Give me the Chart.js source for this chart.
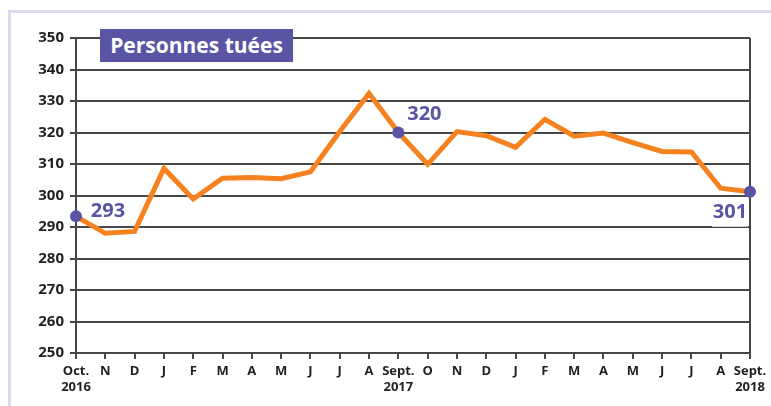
<!DOCTYPE html>
<html>
<head>
<meta charset="utf-8">
<script src="https://cdn.jsdelivr.net/npm/chart.js@4/dist/chart.umd.min.js"></script>
<style>
  html, body { margin: 0; padding: 0; background: #fff; }
  #wrap { position: relative; width: 771px; height: 406px; overflow: hidden; }
  #frame { position: absolute; left: 8px; top: 10px; right: -10px; bottom: -10px;
           border-top: 3px solid #dcd9ef; border-left: 3px solid #dcd9ef; }
  #title { position: absolute; left: 100px; top: 29px; width: 193px; height: 33px;
           background: #5954a4; color: #fff; font: bold 21px "Open Sans", sans-serif;
           line-height: 32px; text-align: center; }
  canvas { position: absolute; left: 0; top: 0; }
</style>
</head>
<body>
<div id="wrap">
  <div id="frame"></div>
  <canvas id="chart" width="771" height="406"></canvas>
  <div id="title">Personnes tuées</div>
</div>
<script>
const months = [
  ["Oct.", "2016"], "N", "D", "J", "F", "M", "A", "M", "J", "J", "A", ["Sept.", "2017"],
  "O", "N", "D", "J", "F", "M", "A", "M", "J", "J", "A", ["Sept.", "2018"]
];
const killed = [
  293.4, 288, 288.6, 308.6, 298.9, 305.5, 305.7, 305.3, 307.5, 320.3, 332.4, 320,
  309.9, 320.3, 319, 315.3, 324.2, 318.8, 319.8, 316.8, 314, 313.8, 302.3, 301.2
];
const markedPoints = [0, 11, 23];
const yTicks = [250, 260, 270, 280, 290, 300, 310, 320, 330, 340, 350];

const PURPLE = "#5954a4";
const ORANGE = "#f5821f";
const GRID = "#474747";

// label placement for the highlighted points (offsets from the dot)
const labelOffsets = { 0: [32, -5], 11: [26, -18], 23: [-20, 21] };

const pointLabels = {
  id: "pointLabels",
  afterDatasetsDraw(chart){
    const ctx = chart.ctx;
    const meta = chart.getDatasetMeta(0);
    ctx.save();
    ctx.font = "bold 20px 'Open Sans', sans-serif";
    ctx.textAlign = "center";
    ctx.textBaseline = "middle";
    for (const i of markedPoints){
      const pt = meta.data[i];
      const [dx, dy] = labelOffsets[i];
      const txt = String(Math.round(killed[i]));
      const x = pt.x + dx, y = pt.y + dy;
      if (i === 23){
        ctx.fillStyle = "#fff";
        ctx.fillRect(x - 18, y - 11, 36, 25);
      }
      ctx.fillStyle = PURPLE;
      ctx.fillText(txt, x, y);
    }
    ctx.restore();
  }
};

new Chart(document.getElementById("chart"), {
  type: "line",
  data: {
    labels: months,
    datasets: [{
      data: killed,
      borderColor: ORANGE,
      borderWidth: 5,
      borderJoinStyle: "miter",
      tension: 0,
      clip: false,
      pointRadius: (c) => markedPoints.includes(c.dataIndex) ? 6 : 0,
      pointHoverRadius: 0,
      pointBackgroundColor: PURPLE,
      pointBorderWidth: 0
    }]
  },
  options: {
    responsive: false,
    animation: false,
    events: [],
    layout: { padding: { left: 10, right: 21, top: 38, bottom: 0 } },
    plugins: { legend: { display: false }, tooltip: { enabled: false } },
    scales: {
      x: {
        offset: false,
        afterFit: (s) => { s.height = 53; },
        grid: {
          drawOnChartArea: true,
          color: (c) => c.index === months.length - 1 ? GRID : "transparent",
          tickColor: GRID,
          lineWidth: 2,
          tickLength: 6
        },
        border: { color: GRID, width: 2 },
        ticks: {
          autoSkip: false,
          maxRotation: 0,
          minRotation: 0,
          padding: 4,
          color: "#231f20",
          font: { family: "'Open Sans'", weight: "bold", size: 13, lineHeight: 1.25 }
        }
      },
      y: {
        min: 250,
        max: 350,
        afterFit: (s) => { s.width = 66; },
        afterBuildTicks: (s) => { s.ticks = yTicks.map(v => ({ value: v })); },
        grid: { color: GRID, lineWidth: 2, tickLength: 6 },
        border: { color: GRID, width: 2 },
        ticks: {
          padding: 6,
          color: "#231f20",
          font: { family: "'Open Sans'", weight: "bold", size: 15 }
        }
      }
    }
  },
  plugins: [pointLabels]
});
</script>
</body>
</html>
